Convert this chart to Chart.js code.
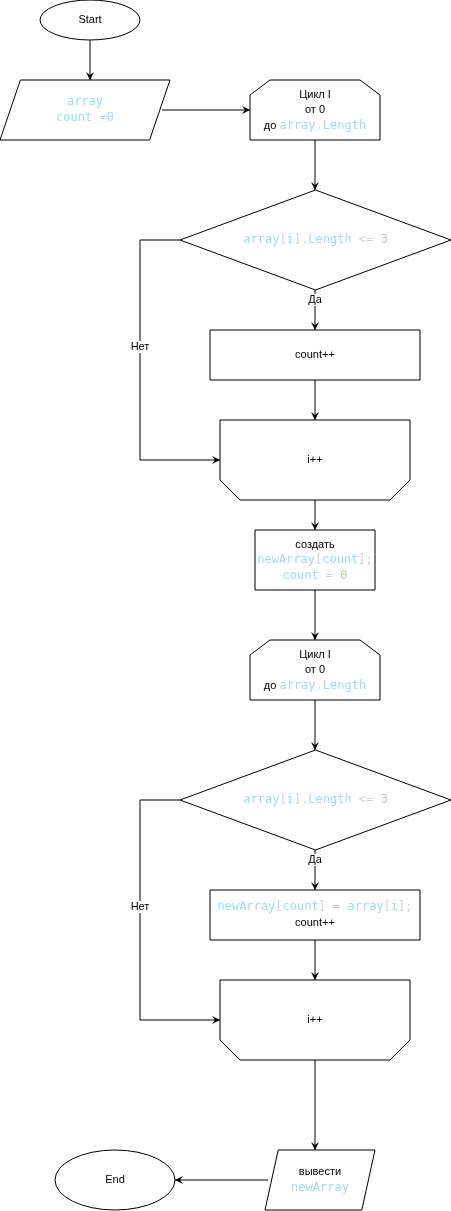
<!DOCTYPE html>
<html>
<head>
<meta charset="utf-8">
<script src="https://cdn.jsdelivr.net/npm/chart.js@4/dist/chart.umd.min.js"></script>
<style>
html,body{margin:0;padding:0;background:#fff;}
#wrap{width:451px;height:1211px;}
</style>
</head>
<body>
<div id="wrap"><canvas id="flow"></canvas></div>
<script>
// node ids, shapes and labels
var nodeIds = ['start','input','loop1','if1','inc1','next1','create','loop2','if2','inc2','next2','output','end'];
var nodeShapes = ['ellipse','para','loopTop','diamond','rect','loopBottom','rect','loopTop','diamond','rect','loopBottom','para','ellipse'];
// node boxes: [left, top, width, height] in flowchart units
var nodeBoxes = [
    [40,0,100,40],[0,80,170,60],[250,80,130,60],[180,190,271,100],[210,330,210,50],
    [220,420,190,80],[255,530,120,60],[250,640,130,60],[180,750,271,100],[210,890,210,50],
    [220,980,190,80],[265,1150,110,60],[55,1150,120,60]
];
// label lines: each segment is [text, colour, font]
var nodeLabels = [
    [[['Start','k','s']]],
    [[['array','b','m']],[['count =0','b','m']]],
    [[['Цикл I','k','s']],[['от 0','k','s']],[['до ','k','s'],['array','b','m'],['.','g','m'],['Length','b','m']]],
    [[['array','b','m'],['[','g','m'],['i','b','m'],['].','g','m'],['Length','b','m'],[' <= ','g','m'],['3','n','m']]],
    [[['count++','k','s']]],
    [[['i++','k','s']]],
    [[['создать','k','s']],[['newArray','b','m'],['[','g','m'],['count','b','m'],['];','g','m']],[['count','b','m'],[' = ','g','m'],['0','n','m']]],
    [[['Цикл I','k','s']],[['от 0','k','s']],[['до ','k','s'],['array','b','m'],['.','g','m'],['Length','b','m']]],
    [[['array','b','m'],['[','g','m'],['i','b','m'],['].','g','m'],['Length','b','m'],[' <= ','g','m'],['3','n','m']]],
    [[['newArray','b','m'],['[','g','m'],['count','b','m'],['] = ','g','m'],['array','b','m'],['[','g','m'],['i','b','m'],['];','g','m']],[['count++','k','s']]],
    [[['i++','k','s']]],
    [[['вывести','k','s']],[['newArray','b','m']]],
    [[['End','k','s']]]
];
// connectors: polyline points, last segment gets an arrow
var edgePaths = [
    [[90,40],[90,80]],
    [[162,110],[250,110]],
    [[315,140],[315,190]],
    [[315,290],[315,330]],
    [[315,380],[315,420]],
    [[180,240],[140,240],[140,460],[220,460]],
    [[315,500],[315,530]],
    [[315,590],[315,640]],
    [[315,700],[315,750]],
    [[315,850],[315,890]],
    [[315,940],[315,980]],
    [[180,800],[140,800],[140,1020],[220,1020]],
    [[315,1060],[315,1150]],
    [[268,1180],[175,1180]]
];
var edgeLabels = ['Да','Нет','Да','Нет'];
var edgeLabelPos = [[315,300],[140,347],[315,860],[140,907]];

var colours = {k:'#000000', b:'#9cdcfe', g:'#d4d4d4', n:'#b5cea8'};
var fonts = {s:'11px "Liberation Sans", Arial, sans-serif', m:'12px "DejaVu Sans Mono", monospace'};

var centres = nodeBoxes.map(function(b){ return {x: b[0] + b[2]/2, y: b[1] + b[3]/2}; });

var flowPlugin = {
    id: 'flow',
    afterDatasetsDraw: function(chart){
        var ctx = chart.ctx, xs = chart.scales.x, ys = chart.scales.y;
        function X(v){ return xs.getPixelForValue(v); }
        function Y(v){ return ys.getPixelForValue(v); }
        ctx.save();
        ctx.strokeStyle = '#000';
        ctx.lineWidth = 1;
        // edges
        edgePaths.forEach(function(p){
            ctx.beginPath();
            ctx.moveTo(X(p[0][0]), Y(p[0][1]));
            for (var i = 1; i < p.length; i++) ctx.lineTo(X(p[i][0]), Y(p[i][1]));
            ctx.stroke();
            var a = p[p.length-2], b = p[p.length-1];
            var ang = Math.atan2(Y(b[1]) - Y(a[1]), X(b[0]) - X(a[0]));
            var ex = X(b[0]), ey = Y(b[1]);
            ctx.beginPath();
            ctx.moveTo(ex, ey);
            ctx.lineTo(ex - 8*Math.cos(ang) + 4*Math.sin(ang), ey - 8*Math.sin(ang) - 4*Math.cos(ang));
            ctx.lineTo(ex - 5*Math.cos(ang), ey - 5*Math.sin(ang));
            ctx.lineTo(ex - 8*Math.cos(ang) - 4*Math.sin(ang), ey - 8*Math.sin(ang) + 4*Math.cos(ang));
            ctx.closePath();
            ctx.fillStyle = '#000';
            ctx.fill();
        });
        // nodes
        nodeBoxes.forEach(function(b, i){
            var l = X(b[0]), t = Y(b[1]), r = X(b[0]+b[2]), bt = Y(b[1]+b[3]);
            var w = r - l, h = bt - t;
            ctx.beginPath();
            switch (nodeShapes[i]) {
                case 'ellipse': ctx.ellipse(l+w/2, t+h/2, w/2, h/2, 0, 0, Math.PI*2); break;
                case 'para': ctx.moveTo(l+w*0.12, t); ctx.lineTo(r, t); ctx.lineTo(r-w*0.12, bt); ctx.lineTo(l, bt); ctx.closePath(); break;
                case 'diamond': ctx.moveTo(l+w/2, t); ctx.lineTo(r, t+h/2); ctx.lineTo(l+w/2, bt); ctx.lineTo(l, t+h/2); ctx.closePath(); break;
                case 'loopTop': ctx.moveTo(l+20, t); ctx.lineTo(r-20, t); ctx.lineTo(r, t+15); ctx.lineTo(r, bt); ctx.lineTo(l, bt); ctx.lineTo(l, t+15); ctx.closePath(); break;
                case 'loopBottom': ctx.moveTo(l, t); ctx.lineTo(r, t); ctx.lineTo(r, bt-20); ctx.lineTo(r-20, bt); ctx.lineTo(l+20, bt); ctx.lineTo(l, bt-20); ctx.closePath(); break;
                default: ctx.rect(l, t, w, h);
            }
            ctx.fillStyle = '#fff';
            ctx.fill();
            ctx.stroke();
            // label
            var lines = nodeLabels[i], lh = 15.5;
            var cy = t + h/2 - (lines.length-1)*lh/2;
            ctx.textBaseline = 'middle';
            lines.forEach(function(line, j){
                var total = 0;
                line.forEach(function(s){ ctx.font = fonts[s[2]]; total += ctx.measureText(s[0]).width; });
                var x = l + w/2 - total/2;
                line.forEach(function(s){
                    ctx.font = fonts[s[2]];
                    ctx.fillStyle = colours[s[1]];
                    ctx.textAlign = 'left';
                    ctx.fillText(s[0], x, cy + j*lh);
                    x += ctx.measureText(s[0]).width;
                });
            });
        });
        // edge labels
        ctx.font = fonts.s;
        ctx.textAlign = 'center';
        edgeLabels.forEach(function(txt, i){
            var x = X(edgeLabelPos[i][0]), y = Y(edgeLabelPos[i][1]);
            var w = ctx.measureText(txt).width + 2;
            ctx.fillStyle = '#fff';
            ctx.fillRect(x - w/2, y - 6, w, 12);
            ctx.fillStyle = '#000';
            ctx.fillText(txt, x, y);
        });
        ctx.restore();
    }
};

new Chart(document.getElementById('flow').getContext('2d'), {
    type: 'scatter',
    data: { datasets: [{ label: 'nodes', data: centres, pointRadius: 0 }] },
    options: {
        responsive: true,
        maintainAspectRatio: false,
        animation: false,
        layout: { padding: 0 },
        plugins: { legend: { display: false }, tooltip: { enabled: false } },
        scales: {
            x: { type: 'linear', min: 0, max: 451, display: false },
            y: { type: 'linear', min: 0, max: 1211, reverse: true, display: false }
        }
    },
    plugins: [flowPlugin]
});
</script>
</body>
</html>
